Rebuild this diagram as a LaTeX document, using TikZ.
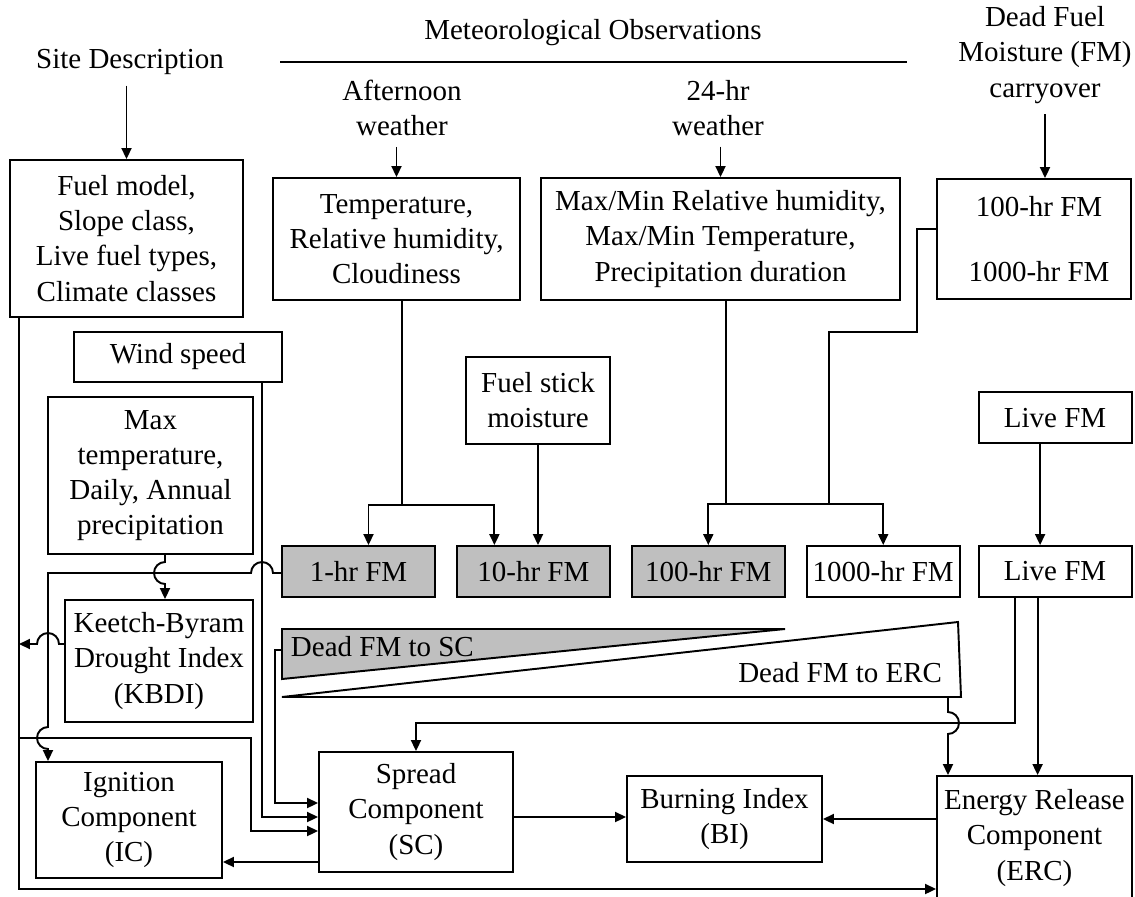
\documentclass[tikz,border=0pt]{standalone}
\usepackage{fontspec}
\setmainfont{Liberation Serif}
\usepackage{xcolor}
\usepackage{tikz}
\usetikzlibrary{arrows.meta,positioning,calc}

\begin{document}
\begin{tikzpicture}[x=0.02cm,y=-0.02cm,line width=1.1pt,font=\fontsize{16.5}{20}\selectfont,
  st/.style={rectangle,draw,align=center,inner sep=2pt},
  fm/.style={st,minimum width=3.06cm,minimum height=1.02cm},
  lbl/.style={align=center,inner sep=.2cm},
  arr/.style={-{Triangle[length=2.2mm,width=2mm]}}]
\useasboundingbox (0,0) rectangle (1135,896);
\node[lbl] (site) at (130,62) {Site Description};
\node[lbl] (met) at (593,33) {Meteorological Observations};
\coordinate (metl) at (280,62); \coordinate (metr) at (907,62);
\draw (metl) -- (metr);
\node[lbl] (aft) at (402,108) {Afternoon\\weather};
\node[lbl] (day) at (718,108) {24-hr\\weather};
\node[lbl] (carryl) at (1045,55) {Dead Fuel\\Moisture (FM)\\carryover};

\node[st,minimum width=4.66cm,minimum height=3.14cm] (fuel) at (126.5,238.5) {Fuel model,\\Slope class,\\Live fuel types,\\Climate classes};
\node[st,minimum width=4.94cm,minimum height=2.44cm] (temp) at (396.5,239) {Temperature,\\Relative humidity,\\Cloudiness};
\node[st,minimum width=7.18cm,minimum height=2.44cm] (maxmin) at (720.5,239) {Max/Min Relative humidity,\\Max/Min Temperature,\\Precipitation duration};
\node[st,minimum width=3.88cm,minimum height=2.4cm] (carry) at (1034,239) {\hspace*{.2cm}100-hr FM\\[.6cm]\hspace*{.2cm}1000-hr FM};
\node[st,minimum width=4.16cm,minimum height=1cm] (wind) at (178,357) {Wind speed};
\node[st,minimum width=4.1cm,minimum height=3.14cm] (maxt) at (150.5,475.5) {Max\\temperature,\\Daily, Annual\\precipitation};
\node[st,minimum width=2.88cm,minimum height=1.74cm] (stick) at (538,400.5) {Fuel stick\\moisture};

\node[fm,fill=gray!50] (fm1) at (358.5,571.5) {1-hr FM};
\node[fm,fill=gray!50,right=.4cm of fm1] (fm10) {10-hr FM};
\node[fm,fill=gray!50,right=.4cm of fm10] (fm100) {100-hr FM};
\node[fm,right=.4cm of fm100] (fm1000) {1000-hr FM};
\node[fm,right=.34cm of fm1000] (livedn) {Live FM};
\node[fm,above=2.02cm of livedn] (liveup) {Live FM};

\node[st,minimum width=3.76cm,minimum height=2.44cm] (kbdi) at (159,661) {Keetch-Byram\\Drought Index\\(KBDI)};
\node[st,minimum width=3.72cm,minimum height=2.32cm] (ic) at (129,820) {Ignition\\Component\\(IC)};
\node[st,minimum width=3.88cm,minimum height=2.4cm] (sc) at (416,812) {Spread\\Component\\(SC)};
\node[st,minimum width=3.9cm,minimum height=1.72cm] (bi) at (724.5,819) {Burning Index\\(BI)};
\node[st,minimum width=3.9cm,minimum height=2.48cm] (erc) at (1034.5,838) {Energy Release\\Component\\(ERC)};

\coordinate (sca) at (282,629); \coordinate (scb) at (785,629); \coordinate (scc) at (282,679);
\draw[fill=gray!50] (sca) -- (scb) -- (scc) -- cycle;
\coordinate (era) at (282,697); \coordinate (erb) at (958,622); \coordinate (erc2) at (961,697);
\draw (era) -- (erb) -- (erc2) -- cycle;
\node[anchor=west,inner sep=0] (dsc) at (290,647) {Dead FM to SC};
\node[anchor=east,inner sep=0] (derc) at (943,673) {Dead FM to ERC};

\draw[arr] (site.south -| fuel) -- (fuel);
\draw[arr] (aft.south -| temp) -- (temp);
\draw[arr] (day.south -| maxmin) -- (maxmin);
\draw[arr] (carryl) -- (carryl |- carry.north);

\coordinate (tj) at (402,505);
\draw (temp.south -| tj) -- (tj);
\draw[arr] (tj) -| ([xshift=.2cm]fm1.north);
\draw[arr] (tj) -| ([xshift=-.78cm]fm10.north);
\draw[arr] (stick) -- (stick |- fm10.north);

\coordinate (mj) at (726,504); \coordinate (cj) at (829,504); \coordinate (ck) at (917,332);
\draw (maxmin.south -| mj) -- (mj);
\draw[arr] (mj) -| (fm100);
\draw[arr] (mj) -| (fm1000);
\draw ([yshift=.2cm]carry.west) -| (ck) -| (cj);

\draw[arr] ([xshift=-.3cm]liveup.south) -- ([xshift=-.3cm]livedn.north);
\coordinate (lr) at (416,723);
\draw[arr] ([xshift=-.81cm]livedn.south) |- (lr) -- (sc.north);
\coordinate (lx) at ([xshift=-.35cm]livedn.south);
\draw[arr] (lx) -- (lx |- erc.north);
\coordinate (ex) at (948,697); \coordinate (eb) at (948,712);
\draw[arr] (ex) -- (eb) arc[start angle=90,end angle=-90,radius=.22cm] -- (ex |- erc.north);

\coordinate (sa) at (282,650); \coordinate (sk) at (275,803);
\draw[arr] (sa) -| (sk) -- (sk -| sc.west);
\coordinate (wk) at (262,817);
\draw[arr] (wind.south -| wk) -- (wk) -- (wk -| sc.west);
\coordinate (fk) at (19,889); \coordinate (fb) at (19,738); \coordinate (fc) at (251,831);
\draw[arr] (fuel.south -| fk) -- (fk) -- (fk -| erc.west);
\draw[arr] (fb) -| (fc) -- (fc -| sc.west);

\coordinate (kb) at (59,644);
\draw[arr] (kbdi.west |- kb) -- (kb) arc[start angle=0,end angle=180,radius=.22cm] -- (kb -| fk);
\coordinate (ob) at (273,573); \coordinate (oc) at (48,573); \coordinate (od) at (48,727);
\draw[arr] (fm1.west |- ob) -- (ob) arc[start angle=0,end angle=180,radius=.22cm] -- (oc) -- (od) arc[start angle=90,end angle=270,radius=.22cm] -- (od |- ic.north);
\coordinate (mb) at (165,562);
\draw[arr] (maxt.south -| mb) -- (mb) arc[start angle=90,end angle=270,radius=.22cm] -- (mb |- kbdi.north);

\draw[arr] (sc.east |- wk) -- (bi.west |- wk);
\draw[arr] (erc.west |- bi) -- (bi);
\coordinate (si) at ([yshift=-1cm]sc.west);
\draw[arr] (si) -- (si -| ic.east);
\end{tikzpicture}
\end{document}
